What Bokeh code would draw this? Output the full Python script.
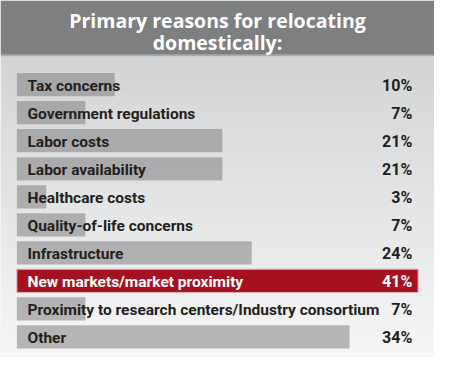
from bokeh.plotting import figure
from bokeh.models import Range1d, ColumnDataSource
from bokeh.core.properties import value
from bokeh.embed import file_html
from bokeh.resources import INLINE

title_lines = ["Primary reasons for relocating", "domestically:"]
categories = [
    "Tax concerns",
    "Government regulations",
    "Labor costs",
    "Labor availability",
    "Healthcare costs",
    "Quality-of-life concerns",
    "Infrastructure",
    "New markets/market proximity",
    "Proximity to research centers/Industry consortium",
    "Other",
]
values = [10, 7, 21, 21, 3, 7, 24, 41, 7, 34]
highlight = "New markets/market proximity"

W, H = 434, 357
PX_PER_UNIT = 9.785
X0 = 16.4
ROW0 = 84.2
PITCH = 28.02
HEADER_H = 54.3

p = figure(width=W, height=H, output_backend="svg", toolbar_location=None,
           x_range=Range1d(-X0 / PX_PER_UNIT, (W - X0) / PX_PER_UNIT),
           y_range=Range1d((H - ROW0) / PITCH, -ROW0 / PITCH),
           x_axis_location=None, y_axis_location=None, min_border=0)
p.extra_x_ranges = {"px": Range1d(0, W)}
p.extra_y_ranges = {"py": Range1d(H, 0)}
p.xgrid.visible = False
p.ygrid.visible = False
p.outline_line_color = None
p.background_fill_color = "#f4f4f4"
p.border_fill_color = "#f4f4f4"

# background gradient (styling)
n = 60
tops, bots, cols = [], [], []
c_top = (211, 212, 214)
c_bot = (246, 246, 246)
for i in range(n):
    t = i / (n - 1)
    y0 = HEADER_H + (H - HEADER_H) * i / n
    y1 = HEADER_H + (H - HEADER_H) * (i + 1) / n + 0.6
    col = tuple(int(round(a + (b - a) * t)) for a, b in zip(c_top, c_bot))
    tops.append(y0); bots.append(y1); cols.append("#%02x%02x%02x" % col)
p.quad(left=0, right=W, top=tops, bottom=bots, fill_color=cols, line_color=None,
       x_range_name="px", y_range_name="py")

# header band
p.quad(left=[0], right=[W], top=[0], bottom=[HEADER_H], fill_color="#7e7f81",
       line_color=None, x_range_name="px", y_range_name="py")
p.quad(left=[0], right=[W], top=[HEADER_H], bottom=[HEADER_H + 1.5], fill_color="#a9aaac",
       line_color=None, x_range_name="px", y_range_name="py")

title_y = [19.5, 41.5]
p.text(x=[W / 2] * 2, y=title_y, text=title_lines, text_color="white",
       text_font=value("Open Sans"), text_font_style="bold", text_font_size="19.5px",
       text_align="center", text_baseline="alphabetic",
       x_range_name="px", y_range_name="py")

rows = list(range(len(categories)))
is_hi = [c == highlight for c in categories]
src = ColumnDataSource(dict(
    cat=categories, val=values, row=rows,
    lbl=["%d%%" % v for v in values],
    fill=["#a6111f" if h else "#7a7b7d" for h in is_hi],
    alpha=[1.0 if h else 0.52 for h in is_hi],
    line=["#d6b0b4" if h else None for h in is_hi],
    tcol=["white" if h else "#231f20" for h in is_hi],
))
p.hbar(y="row", left=0, right="val", height=0.83, fill_color="fill", fill_alpha="alpha",
       line_color="line", line_width=1, source=src)

font = value("Roboto")
p.text(x=1.08, y="row", text="cat", source=src, text_color="tcol",
       text_font=font, text_font_style="bold", text_font_size="15.5px",
       text_align="left", text_baseline="middle", y_offset=1)
p.text(x=40.4, y="row", text="lbl", source=src, text_color="tcol",
       text_font=font, text_font_style="bold", text_font_size="16px",
       text_align="right", text_baseline="middle", y_offset=1)

open("out.html", "w").write(file_html(p, INLINE))
